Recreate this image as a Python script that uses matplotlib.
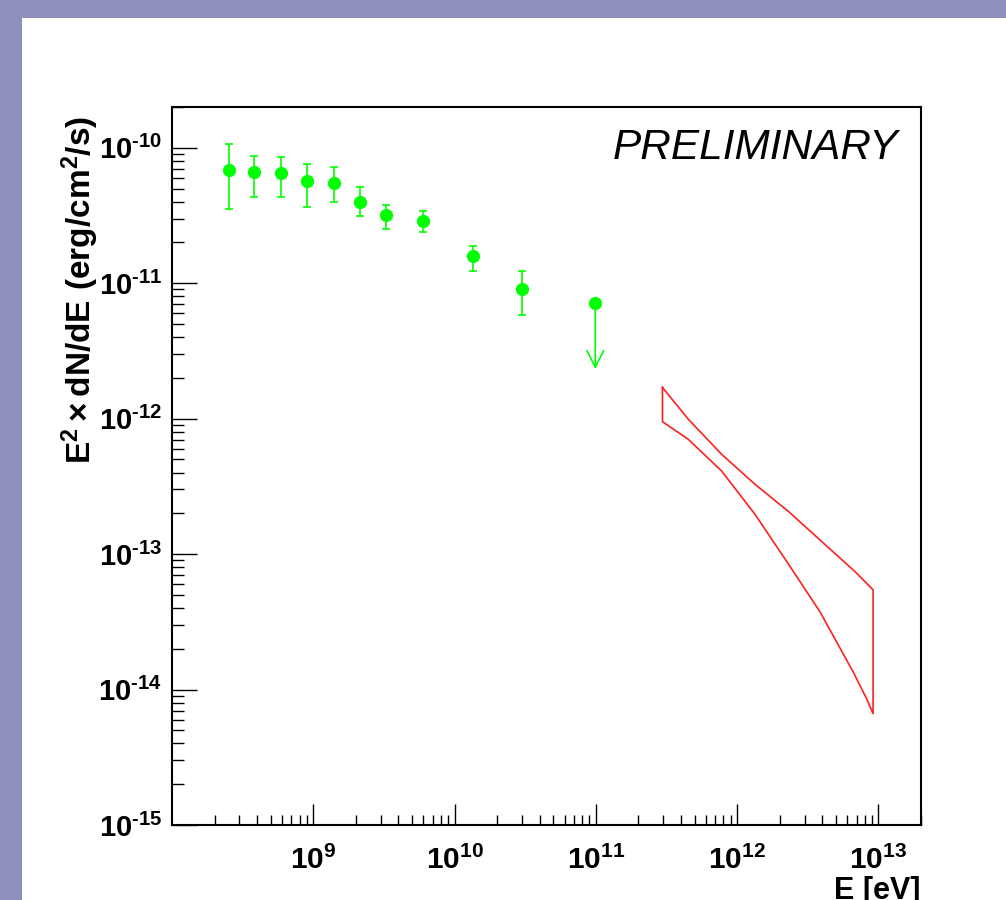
import matplotlib
matplotlib.use("Agg")
import matplotlib.pyplot as plt
from matplotlib.patches import Rectangle
from matplotlib.ticker import NullFormatter, LogLocator
import numpy as np

# Fermi-LAT like points (E in eV, E^2 dN/dE in erg/cm2/s)
energy = [2.53e8, 3.83e8, 5.94e8, 9.07e8, 1.41e9, 2.13e9, 3.28e9, 6.0e9, 1.36e10, 3.01e10]
flux = [6.84e-11, 6.64e-11, 6.46e-11, 5.66e-11, 5.51e-11, 3.98e-11, 3.21e-11, 2.90e-11, 1.60e-11, 9.1e-12]
flux_lo = [3.52e-11, 4.34e-11, 4.34e-11, 3.68e-11, 3.98e-11, 3.13e-11, 2.53e-11, 2.40e-11, 1.23e-11, 5.83e-12]
flux_hi = [1.06e-10, 8.73e-11, 8.49e-11, 7.61e-11, 7.23e-11, 5.09e-11, 3.81e-11, 3.41e-11, 1.89e-11, 1.23e-11]

# upper limit
ul_energy = 9.9e10
ul_flux = 7.2e-12
ul_tip = 2.32e-12

# TeV butterfly, upper and lower edges
bow_up_E = [2.96e11, 4.51e11, 7.77e11, 1.34e12, 2.30e12, 3.96e12, 6.80e12, 9.16e12]
bow_up_F = [1.70e-12, 9.90e-13, 5.45e-13, 3.27e-13, 2.07e-13, 1.24e-13, 7.45e-14, 5.45e-14]
bow_lo_E = [2.96e11, 4.51e11, 7.77e11, 1.34e12, 2.24e12, 3.85e12, 6.62e12, 8.23e12, 9.16e12]
bow_lo_F = [9.50e-13, 7.04e-13, 4.10e-13, 1.96e-13, 8.83e-14, 3.76e-14, 1.35e-14, 8.58e-15, 6.64e-15]

x_ticks = [1e9, 1e10, 1e11, 1e12, 1e13]
x_labels = [r'$\mathbf{10^{9}}$', r'$\mathbf{10^{10}}$', r'$\mathbf{10^{11}}$',
            r'$\mathbf{10^{12}}$', r'$\mathbf{10^{13}}$']
y_ticks = [1e-15, 1e-14, 1e-13, 1e-12, 1e-11, 1e-10]
# ROOT prints a short hyphen, not a wide minus sign
y_labels = [r'$\mathbf{10^{‐15}}$', r'$\mathbf{10^{‐14}}$', r'$\mathbf{10^{‐13}}$',
            r'$\mathbf{10^{‐12}}$', r'$\mathbf{10^{‐11}}$', r'$\mathbf{10^{‐10}}$']

plt.rcParams['font.family'] = ['Liberation Sans', 'DejaVu Sans']
plt.rcParams['mathtext.fontset'] = 'custom'
plt.rcParams['mathtext.rm'] = 'Liberation Sans:bold'
plt.rcParams['mathtext.bf'] = 'Liberation Sans:bold'
plt.rcParams['mathtext.it'] = 'Liberation Sans:italic:bold'

green = '#00ff00'
red = '#ff2020'

fig = plt.figure(figsize=(10.06, 9.0), dpi=100, facecolor='#8f90bb')
# white slide panel, behind everything
fig.patches.append(Rectangle((22 / 1006, 0), 1, 1 - 18 / 900, transform=fig.transFigure,
                             facecolor='white', edgecolor='none', zorder=-10))

ax = fig.add_axes([172 / 1006, 75 / 900, 749 / 1006, 718 / 900])
ax.set_zorder(1)
ax.set_xscale('log')
ax.set_yscale('log')
ax.set_xlim(1e8, 2e13)
ax.set_ylim(1e-15, 2.0e-10)

# data points with error bars
f = np.array(flux)
yerr = [f - np.array(flux_lo), np.array(flux_hi) - f]
ax.errorbar(energy, flux, yerr=yerr, fmt='o', color=green, ms=8.5, capsize=3,
            elinewidth=1.2, capthick=1.2)

# upper limit
ax.plot([ul_energy], [ul_flux], 'o', color=green, ms=8.5)
ax.annotate('', xy=(ul_energy, ul_tip), xytext=(ul_energy, ul_flux),
            arrowprops=dict(arrowstyle='->,head_length=0.6,head_width=0.3', color=green,
                            lw=1.2, shrinkA=0, shrinkB=0, mutation_scale=20))

# butterfly outline
bx = bow_up_E + bow_lo_E[::-1] + bow_up_E[:1]
by = bow_up_F + bow_lo_F[::-1] + bow_up_F[:1]
ax.plot(bx, by, color=red, lw=1.2)

# axes styling (ROOT look)
for s in ax.spines.values():
    s.set_linewidth(1.5)
ax.set_xticks(x_ticks, x_labels)
ax.set_yticks(y_ticks, y_labels)
ax.xaxis.set_minor_locator(LogLocator(base=10, subs=np.arange(2, 10), numticks=20))
ax.yaxis.set_minor_locator(LogLocator(base=10, subs=np.arange(2, 10), numticks=20))
ax.xaxis.set_minor_formatter(NullFormatter())
ax.yaxis.set_minor_formatter(NullFormatter())
ax.tick_params(which='both', direction='in', top=False, right=False, width=1)
ax.tick_params(axis='x', which='major', length=15, labelsize=21.5, pad=15)
ax.tick_params(axis='x', which='minor', length=7)
ax.tick_params(axis='y', which='major', length=18, labelsize=21, pad=7)
ax.tick_params(axis='y', which='minor', length=8.5)

fig.text(80 / 1006, 1 - 290 / 900,
         r'$\mathbf{E^{2}}\times\mathbf{dN/dE\ (erg/cm^{2}/s)}$',
         rotation=90, ha='center', va='center', fontsize=24)
fig.text(921 / 1006, 1 / 900, 'E [eV]', ha='right', va='baseline',
         fontsize=22, fontweight='bold')
ax.text(0.97, 0.9276, 'PRELIMINARY', transform=ax.transAxes, ha='right',
        va='baseline', fontsize=30.5, style='italic')

fig.savefig('out.png', dpi=100, facecolor=fig.get_facecolor())
